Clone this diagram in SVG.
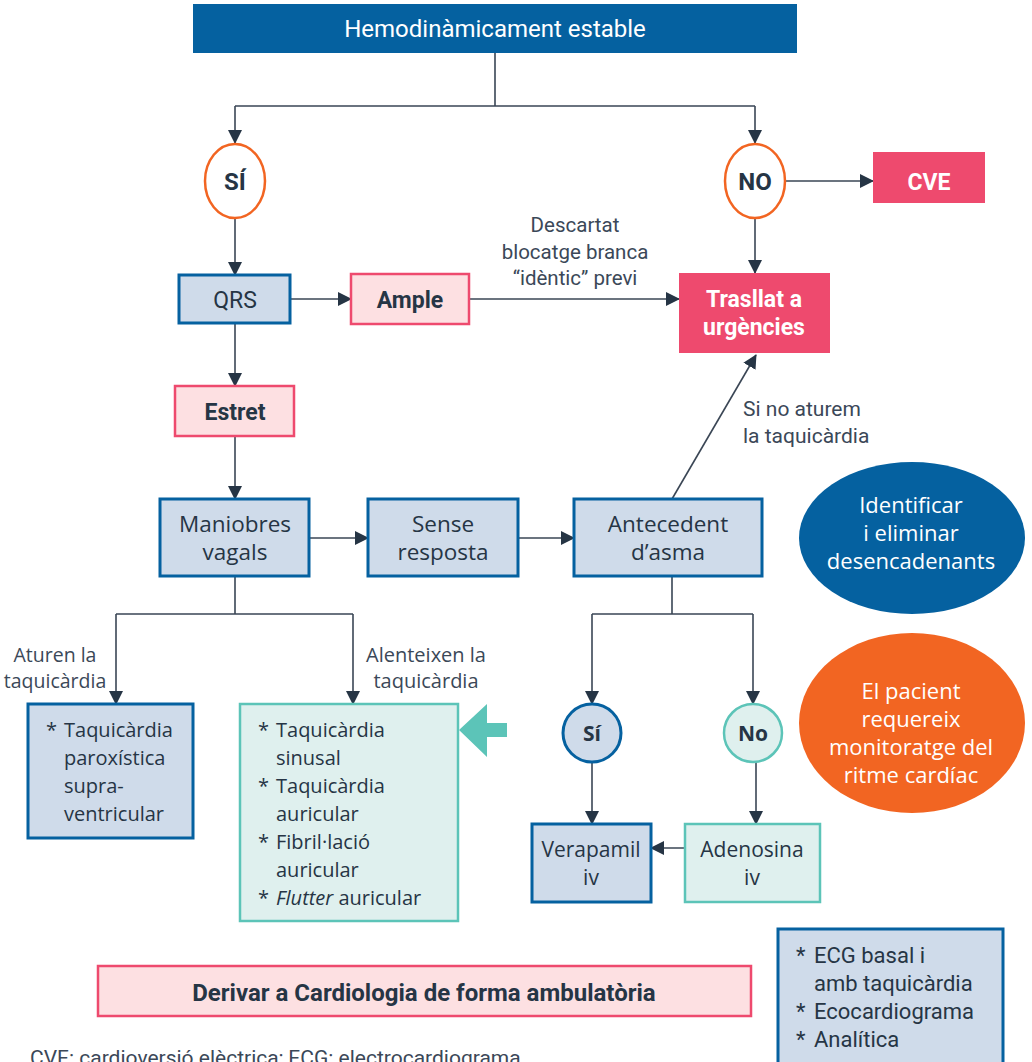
<svg xmlns="http://www.w3.org/2000/svg" width="1032" height="1062" viewBox="0 0 1032 1062">
<defs>
<marker id="arr" markerWidth="14" markerHeight="14" refX="13" refY="7" orient="auto" markerUnits="userSpaceOnUse">
<path d="M0,0 L14,7 L0,14 Z" fill="#263545"/>
</marker>
<style>
.ln{fill:none;stroke:#3a4655;stroke-width:1.6}
.ar{fill:none;stroke:#3a4655;stroke-width:1.6;marker-end:url(#arr)}
.rb{font-family:Roboto,"Liberation Sans",sans-serif}
.os{font-family:"Open Sans","Noto Sans",sans-serif}
.c{text-anchor:middle}
.dk{fill:#263545}
.gy{fill:#3b4858}
.wh{fill:#ffffff}
.b{font-weight:bold}
.blue{fill:#cfdbea;stroke:#0561a0;stroke-width:3}
.pink{fill:#fde0e2;stroke:#ee4a6e;stroke-width:2.5}
.teal{fill:#dff0ee;stroke:#5cc4b8;stroke-width:2.5}
.red{fill:#ee4a6e}
</style>
</defs>
<rect width="1032" height="1062" fill="#ffffff"/>

<g id="connectors">
<path class="ln" d="M495,53 V106 M235,106 H755"/>
<path class="ar" d="M235,106 V143"/>
<path class="ar" d="M755,106 V143"/>
<path class="ar" d="M786,181 H873"/>
<path class="ar" d="M235,218 V275"/>
<path class="ar" d="M755,218 V273"/>
<path class="ar" d="M290,299 H351"/>
<path class="ar" d="M469,299 H679"/>
<path class="ar" d="M235,323 V386"/>
<path class="ar" d="M235,436 V499"/>
<path class="ar" d="M309,538 H368"/>
<path class="ar" d="M518,538 H574"/>
<path class="ar" d="M672,499 L756,355"/>
<path class="ln" d="M235,577 V614 M116,614 H353"/>
<path class="ar" d="M116,614 V704"/>
<path class="ar" d="M353,614 V704"/>
<path class="ln" d="M672,577 V614 M592,614 H753"/>
<path class="ar" d="M592,614 V704"/>
<path class="ar" d="M753,614 V704"/>
<path class="ar" d="M592,762 V824"/>
<path class="ar" d="M756,762 V824"/>
<path class="ar" d="M685,848 H651"/>
<polygon points="459,730 487,704 487,723 507,723 507,737 487,737 487,757" fill="#5cc4b8"/>
<text class="rb c gy" font-size="20.5"><tspan x="575" y="232">Descartat</tspan><tspan x="575" y="259">blocatge branca</tspan><tspan x="575" y="285">“idèntic” previ</tspan></text>
<text class="rb gy" font-size="21"><tspan x="743" y="416">Si no aturem</tspan><tspan x="743" y="443">la taquicàrdia</tspan></text>
<text class="os c gy" font-size="19.5"><tspan x="55" y="662">Aturen la</tspan><tspan x="55" y="688">taquicàrdia</tspan></text>
<text class="os c gy" font-size="20"><tspan x="426" y="662">Alenteixen la</tspan><tspan x="426" y="688">taquicàrdia</tspan></text>
</g>

<g id="n-top">
<rect x="193" y="4" width="604" height="49" fill="#0561a0"/>
<text class="rb c wh" x="495" y="37" font-size="24">Hemodinàmicament estable</text>
</g>
<g id="n-si">
<ellipse cx="235" cy="181" rx="30" ry="37" fill="#fff" stroke="#f26522" stroke-width="2.5"/>
<text class="rb c dk b" x="235" y="190" font-size="24">SÍ</text>
</g>
<g id="n-no">
<ellipse cx="755" cy="181" rx="30" ry="37" fill="#fff" stroke="#f26522" stroke-width="2.5"/>
<text class="rb c dk b" x="755" y="190" font-size="24">NO</text>
</g>
<g id="n-cve">
<rect x="873" y="152" width="112" height="51" class="red"/>
<text class="rb c wh b" x="929" y="190" font-size="23">CVE</text>
</g>
<g id="n-qrs">
<rect x="179" y="275" width="111" height="48" class="blue" stroke-width="2.5"/>
<text class="rb c dk" x="235" y="308" font-size="23">QRS</text>
</g>
<g id="n-ample">
<rect x="351" y="274" width="118" height="50" class="pink"/>
<text class="rb c dk b" x="410" y="308" font-size="23">Ample</text>
</g>
<g id="n-trasllat">
<rect x="679" y="273" width="151" height="80" class="red"/>
<text class="rb c wh b" font-size="23"><tspan x="754" y="307">Trasllat a</tspan><tspan x="754" y="335">urgències</tspan></text>
</g>
<g id="n-estret">
<rect x="175" y="386" width="119" height="50" class="pink"/>
<text class="rb c dk b" x="235" y="420" font-size="23">Estret</text>
</g>
<g id="n-maniobres">
<rect x="160" y="499" width="149" height="77" class="blue"/>
<text class="os c dk" font-size="22.5"><tspan x="235" y="532">Maniobres</tspan><tspan x="235" y="560">vagals</tspan></text>
</g>
<g id="n-sense">
<rect x="368" y="499" width="150" height="77" class="blue"/>
<text class="os c dk" font-size="22.5"><tspan x="443" y="532">Sense</tspan><tspan x="443" y="560">resposta</tspan></text>
</g>
<g id="n-antecedent">
<rect x="574" y="499" width="188" height="77" class="blue"/>
<text class="os c dk" font-size="22.5"><tspan x="668" y="532">Antecedent</tspan><tspan x="668" y="560">d’asma</tspan></text>
</g>
<g id="n-identificar">
<ellipse cx="912" cy="538" rx="113" ry="76" fill="#0561a0"/>
<text class="os c wh" font-size="22"><tspan x="911" y="513">Identificar</tspan><tspan x="911" y="541">i eliminar</tspan><tspan x="911" y="569">desencadenants</tspan></text>
</g>
<g id="n-monitoratge">
<ellipse cx="912" cy="723" rx="113" ry="90" fill="#f26522"/>
<text class="os c wh" font-size="22"><tspan x="911" y="699">El pacient</tspan><tspan x="911" y="727">requereix</tspan><tspan x="911" y="755">monitoratge del</tspan><tspan x="911" y="783">ritme cardíac</tspan></text>
</g>
<g id="n-asma-si">
<circle cx="592" cy="733" r="29" class="blue" stroke-width="2.5"/>
<text class="os c dk b" x="592" y="741" font-size="21">Sí</text>
</g>
<g id="n-asma-no">
<circle cx="753" cy="733" r="29" class="teal"/>
<text class="os c dk b" x="753" y="741" font-size="21">No</text>
</g>
<g id="n-verapamil">
<rect x="532" y="824" width="119" height="78" class="blue"/>
<text class="os c dk" font-size="21"><tspan x="591" y="857">Verapamil</tspan><tspan x="591" y="885">iv</tspan></text>
</g>
<g id="n-adenosina">
<rect x="685" y="824" width="135" height="78" class="teal"/>
<text class="os c dk" font-size="21"><tspan x="752" y="857">Adenosina</tspan><tspan x="752" y="885">iv</tspan></text>
</g>
<g id="n-paroxistica">
<rect x="28" y="704" width="165" height="134" class="blue"/>
<text class="os dk" font-size="20"><tspan x="46" y="737">*</tspan></text>
<text class="os dk" font-size="20"><tspan x="64" y="737">Taquicàrdia</tspan><tspan x="64" y="765">paroxística</tspan><tspan x="64" y="793">supra-</tspan><tspan x="64" y="821">ventricular</tspan></text>
</g>
<g id="n-alenteixen">
<rect x="240" y="704" width="218" height="217" class="teal"/>
<text class="os dk" font-size="20"><tspan x="258" y="737">*</tspan><tspan x="258" y="793">*</tspan><tspan x="258" y="849">*</tspan><tspan x="258" y="905">*</tspan></text>
<text class="os dk" font-size="20"><tspan x="276" y="737">Taquicàrdia</tspan><tspan x="276" y="765">sinusal</tspan><tspan x="276" y="793">Taquicàrdia</tspan><tspan x="276" y="821">auricular</tspan><tspan x="276" y="849">Fibril·lació</tspan><tspan x="276" y="877">auricular</tspan><tspan x="276" y="905"><tspan font-style="italic">Flutter</tspan> auricular</tspan></text>
</g>
<g id="n-derivar">
<rect x="98" y="966" width="653" height="50" class="pink"/>
<text class="rb c dk b" x="424" y="1001" font-size="24">Derivar a Cardiologia de forma ambulatòria</text>
</g>
<g id="n-proves">
<rect x="778" y="929" width="225" height="145" class="blue"/>
<text class="rb dk" font-size="22"><tspan x="796" y="963">*</tspan><tspan x="796" y="1019">*</tspan><tspan x="796" y="1047">*</tspan></text>
<text class="rb dk" font-size="22"><tspan x="814" y="963">ECG basal i</tspan><tspan x="814" y="991">amb taquicàrdia</tspan><tspan x="814" y="1019">Ecocardiograma</tspan><tspan x="814" y="1047">Analítica</tspan></text>
</g>
<text class="rb gy" x="30" y="1065" font-size="21">CVE: cardioversió elèctrica; ECG: electrocardiograma</text>
</svg>
